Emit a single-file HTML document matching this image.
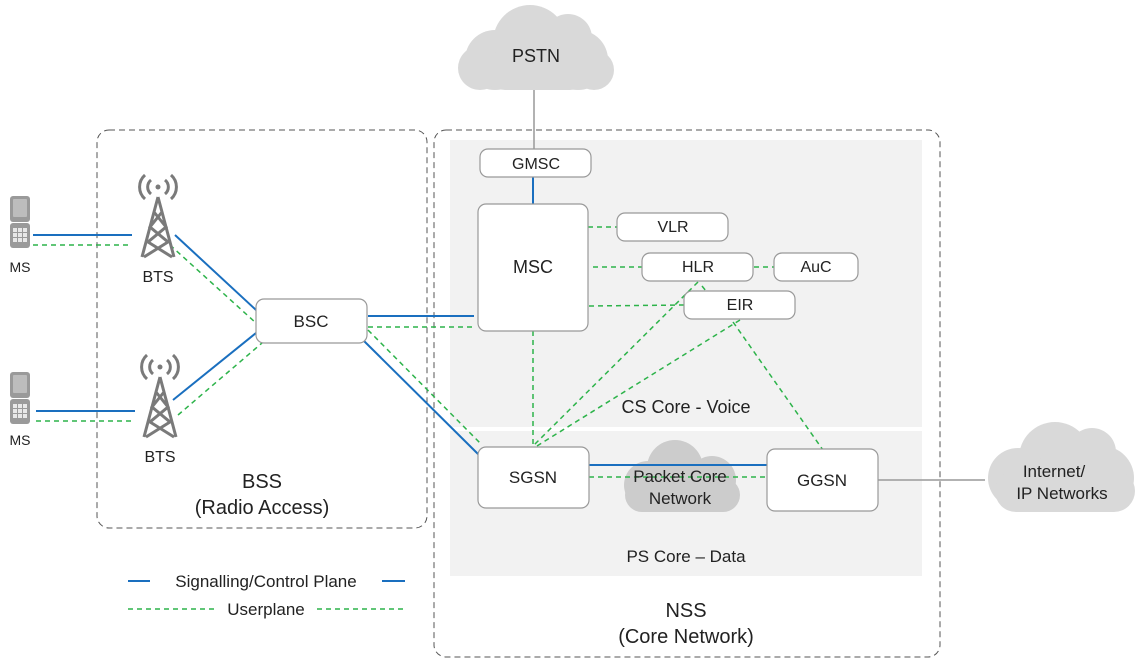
<!DOCTYPE html>
<html><head><meta charset="utf-8"><style>
html,body{margin:0;padding:0;background:#fff}
svg{display:block}
text{font-family:"Liberation Sans",sans-serif;fill:#222}
</style></head><body>
<svg width="1142" height="662" viewBox="0 0 1142 662" xmlns="http://www.w3.org/2000/svg">
<defs>
<g id="phone"><rect x="0" y="0" width="20" height="26" rx="3" fill="#9a9a9a"/><rect x="3" y="3" width="14" height="18" rx="1" fill="#bdbdbd"/><rect x="0" y="27" width="20" height="25" rx="3" fill="#9a9a9a"/><g fill="#e8e8e8"><rect x="3" y="32" width="4" height="4"/><rect x="8" y="32" width="4" height="4"/><rect x="13" y="32" width="4" height="4"/><rect x="3" y="37" width="4" height="4"/><rect x="8" y="37" width="4" height="4"/><rect x="13" y="37" width="4" height="4"/><rect x="3" y="42" width="4" height="4"/><rect x="8" y="42" width="4" height="4"/><rect x="13" y="42" width="4" height="4"/></g></g>
<g id="tower" stroke="#7a7a7a" stroke-width="3" fill="none"><path d="M0 0 L-16 60 M0 0 L16 60 M-4 15 L8 30 L-10 45 L14 60 M4 15 L-8 30 L10 45 L-14 60"/><circle cx="0" cy="-10" r="2.5" fill="#7a7a7a" stroke="none"/><path d="M-7 -17 A9 9 0 0 0 -7 -3 M7 -17 A9 9 0 0 1 7 -3 M-13 -22 A16 16 0 0 0 -13 2 M13 -22 A16 16 0 0 1 13 2"/></g>
</defs>
<rect x="450" y="140" width="472" height="287" fill="#f2f2f2"/>
<rect x="450" y="431" width="472" height="145" fill="#f2f2f2"/>
<rect x="97" y="130" width="330" height="398" rx="12" fill="none" stroke="#555" stroke-dasharray="6,4"/>
<rect x="434" y="130" width="506" height="527" rx="12" fill="none" stroke="#555" stroke-dasharray="6,4"/>
<g fill="#d9d9d9"><circle cx="530" cy="42" r="37"/><circle cx="495" cy="60" r="30"/><circle cx="578" cy="60" r="30"/><circle cx="568" cy="38" r="24"/><rect x="485" y="50" width="105" height="40" rx="20"/><circle cx="480" cy="68" r="22"/><circle cx="594" cy="70" r="20"/></g>
<text x="536" y="62" font-size="18" text-anchor="middle">PSTN</text>
<g fill="#d9d9d9"><circle cx="1055" cy="458" r="36"/><circle cx="1018" cy="478" r="30"/><circle cx="1102" cy="478" r="32"/><circle cx="1092" cy="452" r="24"/><rect x="995" y="470" width="140" height="42" rx="21"/></g>
<text x="1054" y="477" font-size="17" text-anchor="middle">Internet/</text>
<text x="1062" y="499" font-size="17" text-anchor="middle">IP Networks</text>
<g fill="#cccccc"><circle cx="675" cy="468" r="28"/><circle cx="648" cy="485" r="24"/><circle cx="712" cy="480" r="24"/><rect x="625" y="478" width="115" height="34" rx="17"/></g>
<g stroke="#999" stroke-width="1.5"><line x1="534" y1="90" x2="534" y2="150"/><line x1="878" y1="480" x2="985" y2="480"/></g>
<g stroke="#1a6fbf" stroke-width="2" fill="none">
<line x1="533" y1="177" x2="533" y2="204"/>
<line x1="33" y1="235" x2="132" y2="235"/>
<line x1="36" y1="411" x2="135" y2="411"/>
<line x1="175" y1="235" x2="256" y2="310"/>
<line x1="173" y1="400" x2="256" y2="333"/>
<line x1="368" y1="316" x2="474" y2="316"/>
<line x1="364" y1="341" x2="479" y2="455"/>
<line x1="589" y1="465" x2="768" y2="465"/>
<line x1="128" y1="581" x2="405" y2="581"/>
</g>
<g stroke="#2db34a" stroke-width="1.5" fill="none" stroke-dasharray="5,4">
<line x1="33" y1="245" x2="130" y2="245"/>
<line x1="36" y1="421" x2="135" y2="421"/>
<line x1="170" y1="245" x2="256" y2="323"/>
<line x1="178" y1="415" x2="262" y2="343"/>
<line x1="368" y1="327" x2="474" y2="327"/>
<line x1="368" y1="330" x2="482" y2="445"/>
<line x1="588" y1="227" x2="618" y2="227"/>
<line x1="593" y1="267" x2="642" y2="267"/>
<line x1="754" y1="267" x2="774" y2="267"/>
<line x1="589" y1="306" x2="684" y2="305"/>
<line x1="533" y1="331" x2="533" y2="446"/>
<line x1="698" y1="282" x2="533" y2="446"/>
<line x1="740" y1="320" x2="537" y2="446"/>
<line x1="702" y1="286" x2="706" y2="291"/>
<line x1="733" y1="322" x2="823" y2="450"/>
<line x1="589" y1="477" x2="768" y2="477"/>
<line x1="128" y1="609" x2="405" y2="609"/>
</g>
<g fill="#fff" stroke="#999" stroke-width="1.2">
<rect x="480" y="149" width="111" height="28" rx="8"/>
<rect x="478" y="204" width="110" height="127" rx="8"/>
<rect x="617" y="213" width="111" height="28" rx="8"/>
<rect x="642" y="253" width="111" height="28" rx="8"/>
<rect x="774" y="253" width="84" height="28" rx="8"/>
<rect x="684" y="291" width="111" height="28" rx="8"/>
<rect x="256" y="299" width="111" height="44" rx="8"/>
<rect x="478" y="447" width="111" height="61" rx="8"/>
<rect x="767" y="449" width="111" height="62" rx="8"/>
</g>
<g font-size="16" text-anchor="middle">
<text x="536" y="169">GMSC</text>
<text x="533" y="273" font-size="18">MSC</text>
<text x="673" y="232">VLR</text>
<text x="698" y="272">HLR</text>
<text x="816" y="272">AuC</text>
<text x="740" y="310">EIR</text>
<text x="311" y="327" font-size="17">BSC</text>
<text x="533" y="483" font-size="17">SGSN</text>
<text x="822" y="486" font-size="17">GGSN</text>
<text x="680" y="482" font-size="17">Packet Core</text>
<text x="680" y="504" font-size="17">Network</text>
<text x="686" y="413" font-size="18">CS Core - Voice</text>
<text x="686" y="562" font-size="17">PS Core – Data</text>
<text x="262" y="488" font-size="20">BSS</text>
<text x="262" y="514" font-size="20">(Radio Access)</text>
<text x="686" y="617" font-size="20">NSS</text>
<text x="686" y="643" font-size="20">(Core Network)</text>
<text x="158" y="282">BTS</text>
<text x="160" y="462">BTS</text>
<text x="20" y="272" font-size="14">MS</text>
<text x="20" y="445" font-size="14">MS</text>
</g>
<rect x="150" y="572" width="232" height="18" fill="#fff"/>
<text x="266" y="587" font-size="17" text-anchor="middle">Signalling/Control Plane</text>
<rect x="216" y="600" width="100" height="18" fill="#fff"/>
<text x="266" y="615" font-size="17" text-anchor="middle">Userplane</text>
<use href="#phone" x="10" y="196"/>
<use href="#phone" x="10" y="372"/>
<use href="#tower" x="158" y="197"/>
<use href="#tower" x="160" y="377"/>
</svg>
</body></html>
